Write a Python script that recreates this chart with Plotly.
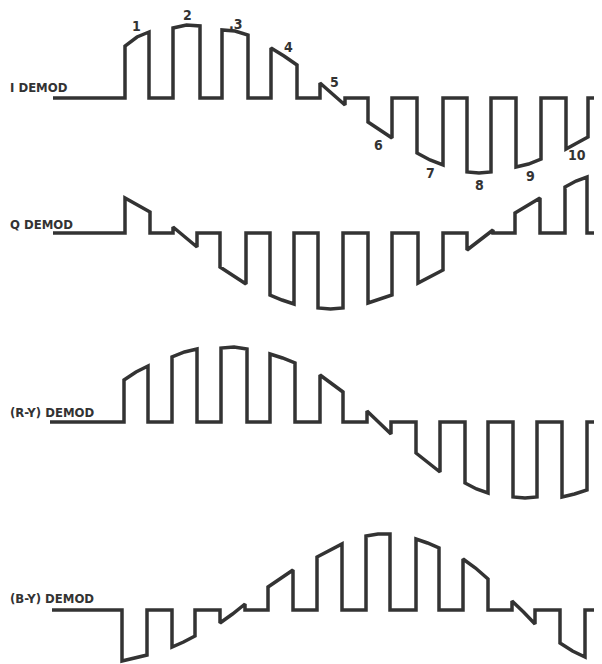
import plotly.graph_objects as go

# 四路解调波形（彩条信号）——每个彩条的起止位置与顶部幅度（相对基线，向上为正）
names = ["I DEMOD", "Q DEMOD", "(R-Y) DEMOD", "(B-Y) DEMOD"]

i_start = [125, 173, 222, 271, 320, 368, 417, 467, 516, 566]
i_end = [149, 200, 248, 297, 345, 392, 443, 491, 541, 588]
i_left = [52, 70, 68, 50, 15, -24, -55, -74, -69, -51]
i_mid = [61, 73, 67, 42, 4, -32, -62, -75, -66, -45]
i_right = [66, 72, 63, 33, -7, -40, -67, -74, -61, -39]

q_start = [125, 173, 220, 270, 318, 368, 418, 467, 515, 565]
q_end = [150, 197, 246, 294, 343, 392, 443, 493, 540, 587]
q_left = [35, 6, -34, -62, -75, -70, -50, -17, 20, 46]
q_mid = [28, -4, -43, -67, -76, -66, -43, -7, 28, 52]
q_right = [21, -14, -51, -71, -75, -62, -37, 3, 35, 56]

ry_start = [124, 172, 221, 270, 320, 367, 416, 465, 513, 562]
ry_end = [148, 197, 247, 295, 343, 391, 440, 488, 537, 587]
ry_left = [42, 65, 74, 68, 47, 11, -31, -61, -75, -75]
ry_mid = [50, 70, 75, 64, 39, 0, -41, -67, -76, -72]
ry_right = [56, 73, 73, 59, 30, -12, -50, -71, -75, -68]

by_start = [122, 172, 220, 268, 317, 366, 416, 463, 512, 560]
by_end = [147, 195, 245, 293, 342, 390, 439, 488, 535, 585]
by_left = [-51, -37, -13, 23, 53, 74, 71, 51, 9, -33]
by_mid = [-48, -32, -4, 32, 60, 76, 67, 42, -2, -41]
by_right = [-45, -26, 6, 40, 66, 76, 62, 31, -14, -47]

# 基线起止
line_from = [53, 53, 50, 52]
line_to = [602, 602, 598, 597]

# I 波形上的彩条编号
bar_nums = ["1", "2", ".3", "4", "5", "6", "7", "8", "9", "10"]
num_x = [136, 187, 236, 288, 334, 378, 430, 479, 530, 577]
num_y = [72, 83, 74, 51, 16, -47, -75, -87, -78, -57]

waves = [
    (i_start, i_end, i_left, i_mid, i_right),
    (q_start, q_end, q_left, q_mid, q_right),
    (ry_start, ry_end, ry_left, ry_mid, ry_right),
    (by_start, by_end, by_left, by_mid, by_right),
]

# 各波形基线在画面中的位置（像素）及标签偏移
baselines = [98, 233, 422, 610]
label_dy = [11, 9, 10, 12]

# 页面 body 默认有 8px 外边距，图的尺寸和坐标范围相应缩小
PAD = 8
W, H = 602, 664
ink = "#333333"
fnt = "DejaVu Sans Condensed"

fig = go.Figure()
layout_axes = {}
annos = []

for k, (st, en, lf, md, rt) in enumerate(waves):
    xs, ys = [line_from[k]], [0]
    for x0, x1, a, b, c in zip(st, en, lf, md, rt):
        xs += [x0, x0, (x0 + x1) / 2, x1, x1]
        ys += [0, a, b, c, 0]
    xs.append(line_to[k])
    ys.append(0)

    yname = "y" if k == 0 else f"y{k + 1}"
    fig.add_trace(go.Scatter(
        x=xs, y=ys, mode="lines", yaxis=yname,
        line=dict(color=ink, width=3.5),
        hoverinfo="skip", showlegend=False,
    ))

    base = baselines[k]
    ax = dict(range=[base - H, base - PAD], domain=[0, 1], visible=False, fixedrange=True)
    if k == 0:
        layout_axes["yaxis"] = ax
    else:
        ax["overlaying"] = "y"
        layout_axes[f"yaxis{k + 1}"] = ax

    annos.append(dict(
        x=8, y=label_dy[k], xref="x", yref=yname, text=names[k],
        showarrow=False, xanchor="left", yanchor="middle",
        font=dict(family=fnt, size=13, color=ink, weight="bold"),
    ))

for t, x, y in zip(bar_nums, num_x, num_y):
    annos.append(dict(
        x=x, y=y, xref="x", yref="y", text=t, showarrow=False,
        font=dict(family=fnt, size=14, color=ink, weight="bold"),
    ))

fig.update_layout(
    width=W - PAD, height=H - PAD,
    margin=dict(l=0, r=0, t=0, b=0),
    paper_bgcolor="white", plot_bgcolor="white",
    xaxis=dict(range=[PAD, W], visible=False, fixedrange=True),
    annotations=annos,
    **layout_axes,
)

fig.write_html("out.html")
